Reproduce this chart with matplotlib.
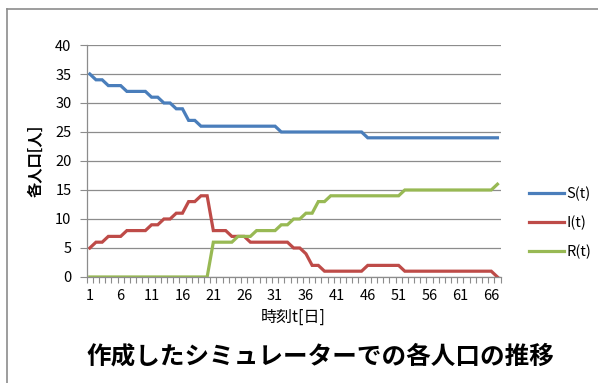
import matplotlib
matplotlib.use("Agg")
import matplotlib.pyplot as plt
from matplotlib.lines import Line2D
import numpy as np

plt.rcParams['font.family'] = ['Noto Sans CJK JP', 'DejaVu Sans']

# 時刻 t = 1..67
t = np.arange(1, 68)

# 各人口
S = [35, 34, 34, 33, 33, 33, 32, 32, 32, 32, 31, 31, 30, 30, 29, 29, 27, 27] \
    + [26] * 13 + [25] * 14 + [24] * 22
I = [5, 6, 6, 7, 7, 7, 8, 8, 8, 8, 9, 9, 10, 10, 11, 11, 13, 13, 14, 14,
     8, 8, 8, 7, 7, 7, 6, 6, 6, 6, 6, 6, 6, 5, 5, 4, 2, 2] \
    + [1] * 7 + [2] * 6 + [1] * 15 + [0]
R = [0] * 20 + [6, 6, 6, 6, 7, 7, 7, 8, 8, 8, 8, 9, 9, 10, 10, 11, 11, 13, 13] \
    + [14] * 12 + [15] * 15 + [16]

series_names = ['S(t)', 'I(t)', 'R(t)']
colors = ['#4A7EBB', '#BE4B48', '#98B954']
xtick_labels = list(range(1, 67, 5))

fig = plt.figure(figsize=(5.98, 3.83), dpi=100)
ax = fig.add_axes([0.145, 0.2768, 0.692, 0.6057])

for vals, name, c in zip([S, I, R], series_names, colors):
    ax.plot(t, vals, color=c, lw=2.3, label=name, solid_joinstyle='miter')

ax.set_xlim(0.5, 67.5)
ax.set_ylim(0, 40)
ax.set_yticks(range(0, 41, 5))
ax.yaxis.grid(True, color='#8C8C8C', lw=0.9)
ax.set_axisbelow(True)

ax.set_xticks(xtick_labels)
ax.set_xticklabels([str(v) for v in xtick_labels])
ax.set_xticks(np.arange(0.5, 68, 1), minor=True)
ax.tick_params(axis='x', which='major', length=0, pad=9, labelsize=10.5)
ax.tick_params(axis='x', which='minor', length=4, color='#8C8C8C', width=0.8)
ax.tick_params(axis='y', length=5, color='#8C8C8C', width=0.8, pad=6, labelsize=10.5)

for side in ['top', 'right']:
    ax.spines[side].set_visible(False)
for side in ['left', 'bottom']:
    ax.spines[side].set_color('#8C8C8C')
    ax.spines[side].set_linewidth(0.9)

ax.set_xlabel('時刻t[日]', fontsize=11.5, labelpad=4)
ax.set_ylabel('各人口[人]', fontsize=11, fontweight='bold', labelpad=8)

ax.legend(loc='center left', bbox_to_anchor=(1.038, 0.233), frameon=False,
          fontsize=10.5, handlelength=2.4, handletextpad=0.15, labelspacing=1.0)

fig.text(0.535, 0.07, '作成したシミュレーターでの各人口の推移', ha='center', va='center',
         fontsize=17.7, fontweight='bold')

# chart frame (top and left edges)
fig.add_artist(Line2D([7 / 598, 1], [1 - 9 / 383, 1 - 9 / 383], color='#8C8C8C', lw=1.2))
fig.add_artist(Line2D([7 / 598, 7 / 598], [0, 1 - 9 / 383], color='#8C8C8C', lw=1.2))

fig.savefig('out.png', dpi=100)
